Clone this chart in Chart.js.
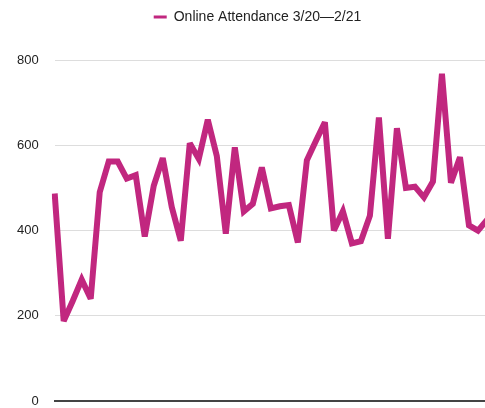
<!DOCTYPE html>
<html>
<head>
<meta charset="utf-8">
<script src="https://cdn.jsdelivr.net/npm/chart.js@4.4.1/dist/chart.umd.min.js"></script>
<style>
  html, body { margin: 0; padding: 0; background: #fff; overflow: hidden; }
  #wrap { width: 485px; height: 408px; overflow: hidden; position: relative; }
  #box { width: 514px; height: 425px; position: absolute; left: 0; top: 0; }
</style>
</head>
<body>
<div id="wrap"><div id="box"><canvas id="c"></canvas></div></div>
<script>
const seriesName = 'Online Attendance 3/20\u20142/21';
const weeks = [
  'W1','W2','W3','W4','W5','W6','W7','W8','W9','W10',
  'W11','W12','W13','W14','W15','W16','W17','W18','W19','W20',
  'W21','W22','W23','W24','W25','W26','W27','W28','W29','W30',
  'W31','W32','W33','W34','W35','W36','W37','W38','W39','W40',
  'W41','W42','W43','W44','W45','W46','W47','W48','W49','W50',
  'W51','W52'
];
const attendance = [
  487, 188, 235, 285, 240, 490, 562, 562, 522, 530,
  386, 505, 570, 455, 376, 605, 568, 660, 575, 393,
  595, 445, 463, 548, 452, 457, 460, 372, 565, 610,
  654, 400, 445, 370, 375, 435, 665, 381, 640, 500,
  503, 478, 515, 768, 512, 572, 412, 400, 425, 440,
  410, 430
];
const yTicks = [0, 200, 400, 600, 800];

const lineColor = '#c1277f';

const legendSpace = {
  id: 'legendSpace',
  beforeInit(chart) {
    const origFit = chart.legend.fit;
    chart.legend.fit = function () {
      origFit.bind(chart.legend)();
      this.height += 26;
    };
  },
  beforeDatasetsDraw(chart) {
    chart.ctx.miterLimit = 3;
  }
};

new Chart(document.getElementById('c'), {
  type: 'line',
  data: {
    labels: weeks,
    datasets: [{
      label: seriesName,
      data: attendance,
      borderColor: lineColor,
      backgroundColor: lineColor,
      borderWidth: 6,
      tension: 0,
      pointRadius: 0,
      pointHoverRadius: 0,
      fill: false,
      borderJoinStyle: 'miter'
    }]
  },
  options: {
    responsive: true,
    maintainAspectRatio: false,
    animation: false,
    layout: { padding: { left: 1, right: 0, top: 0, bottom: 7 } },
    plugins: {
      legend: {
        display: true,
        position: 'top',
        labels: {
          boxWidth: 13,
          boxHeight: 3,
          padding: 10,
          color: '#222',
          font: { family: 'Liberation Sans, Arial, sans-serif', size: 14 },
          generateLabels(chart) {
            const items = Chart.defaults.plugins.legend.labels.generateLabels(chart);
            items.forEach(i => { i.lineWidth = 0; i.fillStyle = lineColor; i.strokeStyle = lineColor; });
            return items;
          }
        }
      },
      tooltip: { enabled: false }
    },
    scales: {
      x: {
        offset: false,
        grid: { display: false, drawTicks: false },
        border: { display: true, color: '#444', width: 2 },
        ticks: { display: false }
      },
      y: {
        min: 0,
        max: 800,
        afterBuildTicks(axis) { axis.ticks = yTicks.map(v => ({ value: v })); },
        grid: { color: '#dddddd', lineWidth: 1, drawTicks: false },
        border: { display: false },
        ticks: {
          padding: 16,
          color: '#222',
          font: { family: 'Liberation Sans, Arial, sans-serif', size: 13 }
        }
      }
    }
  },
  plugins: [legendSpace]
});
</script>
</body>
</html>
